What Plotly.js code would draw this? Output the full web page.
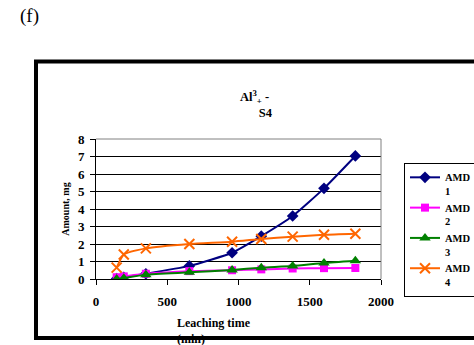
<!DOCTYPE html>
<html>
<head>
<meta charset="utf-8">
<script src="https://cdn.plot.ly/plotly-3.0.1.min.js"></script>
<style>html,body{margin:0;padding:0;background:#fff;}#chart{width:474px;height:345px;}</style>
</head>
<body>
<div id="chart"></div>
<script>
const time = [145, 195, 350, 655, 955, 1160, 1380, 1600, 1820];
const amd1 = [0.02, 0.1, 0.3, 0.75, 1.5, 2.45, 3.6, 5.18, 7.03];
const amd2 = [0.1, 0.15, 0.3, 0.45, 0.5, 0.55, 0.6, 0.62, 0.63];
const amd3 = [0.0, 0.05, 0.25, 0.38, 0.52, 0.65, 0.74, 0.92, 1.05];
const amd4 = [0.65, 1.4, 1.75, 2.0, 2.13, 2.29, 2.42, 2.53, 2.59];
const seriesNames = ["AMD<br>1", "AMD<br>2", "AMD<br>3", "AMD<br>4"];
const xTicks = [0, 500, 1000, 1500, 2000];
const yTicks = [0, 1, 2, 3, 4, 5, 6, 7, 8];

const F = "Liberation Serif, Times New Roman, serif";
function tr(y, name, color, symbol, size) {
  return {x: time, y: y, name: name, type: "scatter", mode: "lines+markers",
    line: {color: color, width: 2, shape: "spline", smoothing: 0.5},
    marker: {color: color, symbol: symbol, size: size, line: {color: color, width: symbol === "x-thin" ? 2 : 0}}};
}
const data = [
  tr(amd1, seriesNames[0], "#000080", "diamond", 9),
  tr(amd2, seriesNames[1], "#FF00FF", "square", 8),
  tr(amd3, seriesNames[2], "#008000", "triangle-up", 10),
  tr(amd4, seriesNames[3], "#FF6600", "x-thin", 10)
];
const L = 96, R = 381, T = 139, B = 279;
const W = R - L, H = B - T;
const px = v => (v - L) / W, py = v => (B - v) / H;
const layout = {
  width: 474, height: 345,
  margin: {l: L, r: 474 - R, t: T, b: 345 - B, autoexpand: false},
  paper_bgcolor: "#fff", plot_bgcolor: "#fff",
  font: {family: F, color: "#000", size: 12},
  title: {text: "<b>Al<sup>3</sup><sub>+</sub> -<br>\u00a0\u00a0\u00a0\u00a0\u00a0\u00a0\u00a0S4</b>", x: px(249), xanchor: "center", y: 1 - 101/345, yanchor: "middle", font: {family: F, size: 12.5}, automargin: false},
  showlegend: true,
  legend: {x: px(404), y: py(163), xanchor: "left", yanchor: "top", bgcolor: "#fff", bordercolor: "#000", borderwidth: 1,
    font: {family: F, size: 10.5, weight: "bold"}, tracegroupgap: 0, itemwidth: 30, valign: "top"},
  xaxis: {range: [0, 2000], tickvals: xTicks, ticktext: xTicks.map(String), ticks: "outside", ticklen: 5, tickcolor: "#000",
    showline: true, linecolor: "#000", linewidth: 1, showgrid: false, zeroline: false, automargin: false,
    tickfont: {family: F, size: 13, weight: "bold"}, ticklabelstandoff: 5},
  yaxis: {range: [0, 8], tickvals: yTicks, ticktext: yTicks.map(String), ticks: "outside", ticklen: 5, tickcolor: "#000",
    showline: true, linecolor: "#000", linewidth: 1, showgrid: true, gridcolor: "#000", gridwidth: 1, zeroline: false, automargin: false,
    tickfont: {family: F, size: 13, weight: "bold"}, ticklabelstandoff: 3,
    title: {text: "<b>Amount, mg</b>", font: {family: F, size: 10}, standoff: 6}},
  shapes: [
    {type: "line", xref: "paper", yref: "paper", x0: 1, x1: 1, y0: 0, y1: 1, line: {color: "#808080", width: 1}, layer: "above"},
    {type: "line", xref: "paper", yref: "paper", x0: 0, x1: 1, y0: 1, y1: 1, line: {color: "#808080", width: 1}, layer: "above"},
    {type: "rect", xref: "paper", yref: "paper", x0: px(36), x1: px(490), y0: py(61.5), y1: py(338), line: {color: "#000", width: 4}, layer: "above"}
  ],
  annotations: [
    {text: "(f)", xref: "paper", yref: "paper", x: px(18), y: py(16), xanchor: "left", yanchor: "middle", showarrow: false, font: {family: F, size: 19}},
    {text: "<b>Leaching time<br>(min)</b>", xref: "paper", yref: "paper", x: px(214), y: py(314), xanchor: "center", yanchor: "top", showarrow: false, font: {family: F, size: 12}, align: "left"}
  ]
};
Plotly.newPlot("chart", data, layout, {displayModeBar: false, staticPlot: true});
</script>
</body>
</html>
